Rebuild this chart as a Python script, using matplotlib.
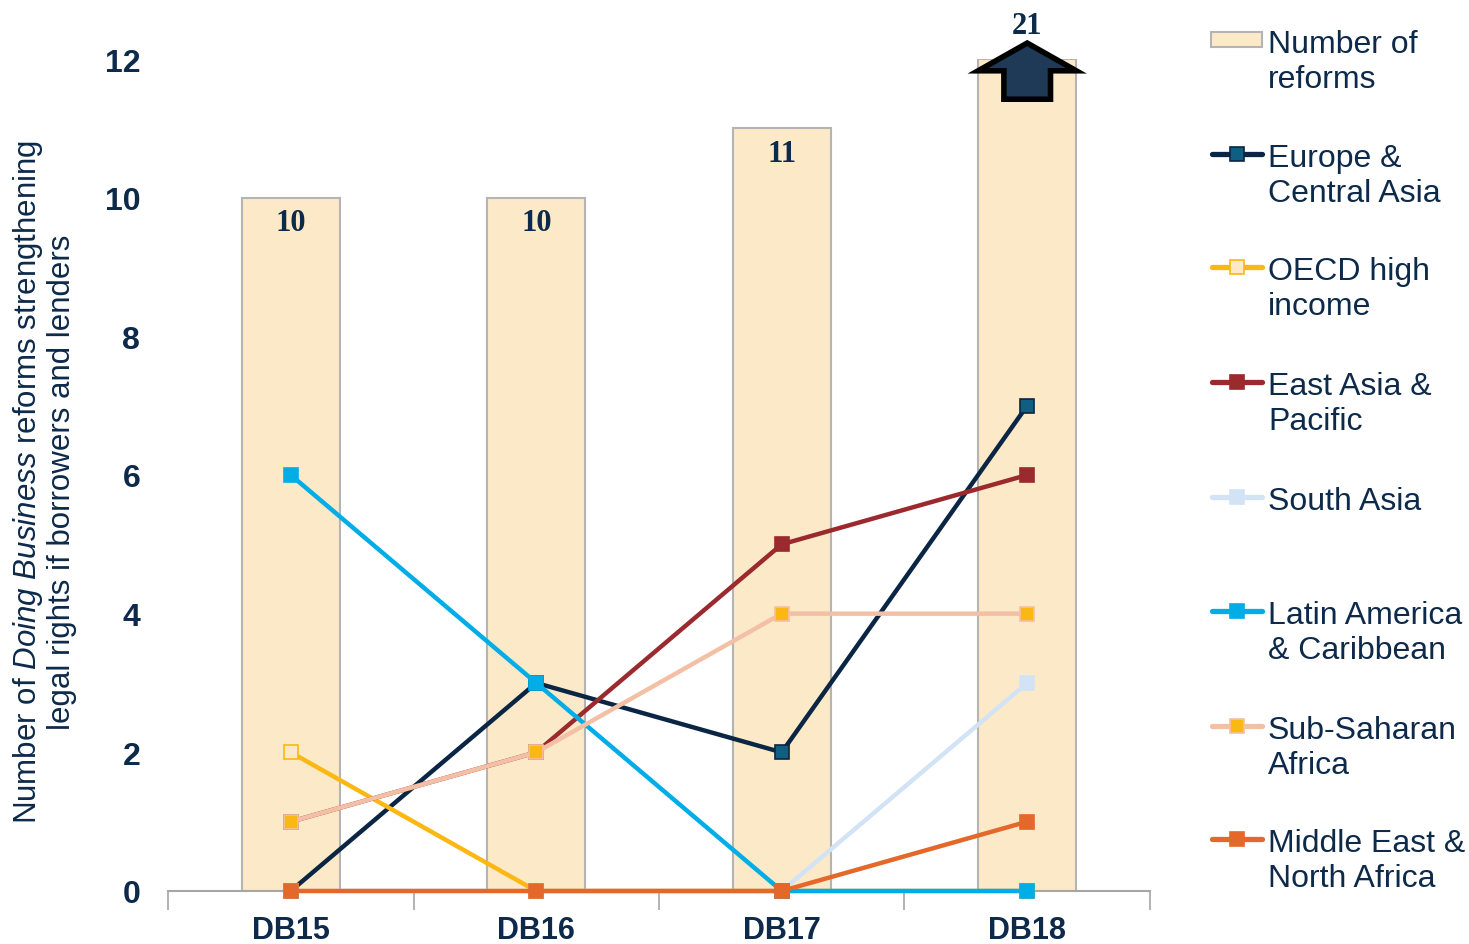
import matplotlib
matplotlib.use("Agg")
import matplotlib.pyplot as plt
from matplotlib.lines import Line2D
from matplotlib.patches import Rectangle, FancyArrow
import numpy as np

plt.rcParams['font.family'] = ['Liberation Sans', 'DejaVu Sans']
plt.rcParams['mathtext.fontset'] = 'custom'
plt.rcParams['mathtext.rm'] = 'Liberation Sans'
plt.rcParams['mathtext.it'] = 'Liberation Sans:italic'

# ---- data ----
categories = ["DB15", "DB16", "DB17", "DB18"]
reforms_display = [10, 10, 11, 12]          # bar heights as drawn (DB18 capped)
reforms_labels = ["10", "10", "11", "21"]

series_names = ["Europe &\nCentral Asia", "OECD high\nincome", "East Asia &\nPacific",
                "South Asia", "Latin America\n& Caribbean", "Sub-Saharan\nAfrica",
                "Middle East &\nNorth Africa"]
europe = [0, 3, 2, 7]
oecd = [2, 0, 0, 0]
east_asia = [1, 2, 5, 6]
south_asia = [0, 0, 0, 3]
latin_america = [6, 3, 0, 0]
sub_saharan = [1, 2, 4, 4]
mena = [0, 0, 0, 1]
series_values = [europe, oecd, east_asia, south_asia, latin_america, sub_saharan, mena]

line_colors = ["#0b2545", "#fbb813", "#9b2a2e", "#d3e3f6", "#00ade6", "#f4c0a5", "#e3682a"]
marker_faces = ["#0e5f82", "#fde9c8", "#9b2a2e", "#d3e3f6", "#00ade6", "#fbb813", "#e3682a"]

navy = "#0d2a4a"
bar_fc = "#fce9c8"
bar_ec = "#b4b4b4"

fig = plt.figure(figsize=(14.69, 9.45), dpi=100)
ax = fig.add_axes([0.1144, 0.0561, 0.6684, 0.8804])

x = np.arange(len(categories))
ax.bar(x, reforms_display, width=0.4, color=bar_fc, edgecolor=bar_ec, linewidth=1.5, zorder=1)

for xi, h, lab in zip(x, reforms_display, reforms_labels):
    if lab == "21":
        ax.text(xi, h + 0.49, lab, ha='center', va='center', fontsize=22, fontweight='bold',
                family='Liberation Serif', color=navy, clip_on=False)
    else:
        ax.text(xi, h - 0.36, lab, ha='center', va='center', fontsize=22, fontweight='bold',
                family='Liberation Serif', color=navy)

# arrow over DB18 bar
arr = FancyArrow(x[3], 11.42, 0, 0.81, width=0.19, head_width=0.40, head_length=0.40,
                 length_includes_head=True, fc="#1f3a56", ec="black", lw=4, zorder=5,
                 clip_on=False, joinstyle='miter')
ax.add_patch(arr)

for name, vals, lc, mf in zip(series_names, series_values, line_colors, marker_faces):
    ax.plot(x, vals, color=lc, lw=3.2, marker='s', markersize=9.5, markerfacecolor=mf,
            markeredgecolor=lc, markeredgewidth=1.2, zorder=3, clip_on=False)

ax.set_xlim(-0.5, 3.5)
ax.set_ylim(0, 12)
ax.set_yticks(np.arange(0, 13, 2))
ax.tick_params(axis='y', length=0, pad=20, labelsize=23, labelcolor=navy)
for t in ax.get_yticklabels():
    t.set_fontweight('bold')

ax.set_xticks(np.arange(-0.5, 3.6, 1.0))
ax.set_xticklabels([])
ax.tick_params(axis='x', which='major', length=14, width=1.2, color="#a6a6a6", direction='out')
ax.set_xticks(x, minor=True)
ax.set_xticklabels(categories, minor=True)
ax.tick_params(axis='x', which='minor', length=0, pad=17, labelsize=22, labelcolor=navy)
for t in ax.get_xticklabels(minor=True):
    t.set_fontweight('bold')

for s in ['top', 'right', 'left']:
    ax.spines[s].set_visible(False)
ax.spines['bottom'].set_color("#a6a6a6")
ax.spines['bottom'].set_linewidth(1.5)

fig.text(0.030, 0.49,
         "Number of $\\mathit{Doing\\ Business}$ reforms strengthening\nlegal rights if borrowers and lenders",
         rotation=90, ha='center', va='center', fontsize=22.5, color=navy, linespacing=1.05)

# ---- legend (drawn manually) ----
W, H = 1469.0, 945.0
def fx(px): return px / W
def fy(py): return 1 - py / H

fig.patches.append(Rectangle((fx(1211), fy(48)), fx(1262) - fx(1211), fy(33) - fy(48),
                             transform=fig.transFigure, fc=bar_fc, ec=bar_ec, lw=1.5))
fig.text(fx(1268), fy(30), "Number of\nreforms", ha='left', va='top', fontsize=23,
         color=navy, linespacing=1.22)

handle_y = [155, 268, 383, 498, 612, 727, 840]
for name, lc, mf, hy in zip(series_names, line_colors, marker_faces, handle_y):
    fig.lines.append(Line2D([fx(1212), fx(1262)], [fy(hy), fy(hy)], transform=fig.transFigure,
                            color=lc, lw=3.8, solid_capstyle='round'))
    fig.lines.append(Line2D([fx(1237)], [fy(hy)], transform=fig.transFigure, color=lc,
                            marker='s', markersize=9.5, markerfacecolor=mf, markeredgecolor=lc,
                            markeredgewidth=1.2))
    fig.text(fx(1268), fy(hy - 11), name, ha='left', va='top', fontsize=23, color=navy,
             linespacing=1.22)

fig.savefig("out.png", dpi=100)
